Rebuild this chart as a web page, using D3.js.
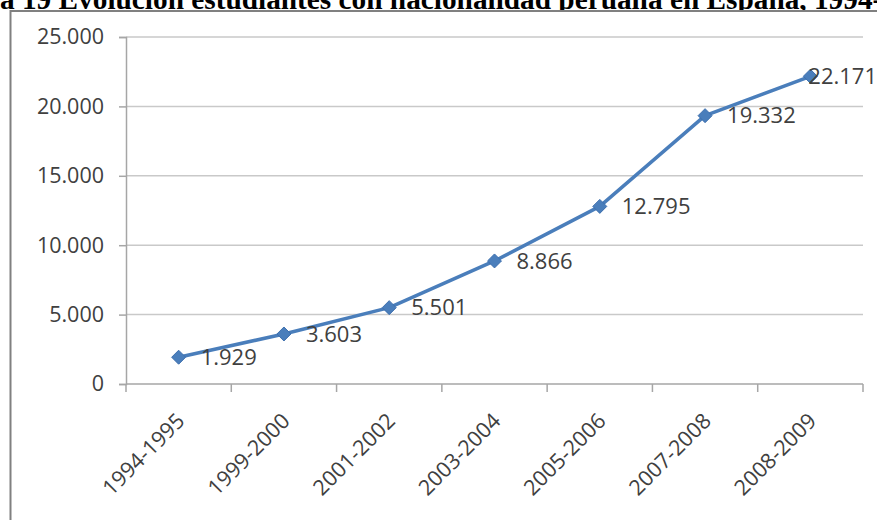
<!DOCTYPE html>
<html>
<head>
<meta charset="utf-8">
<script src="https://cdn.jsdelivr.net/npm/d3@7"></script>
<style>
  html, body { margin: 0; padding: 0; background: #fff; overflow: hidden; }
  svg { display: block; }
</style>
</head>
<body>
<svg id="chart" width="877" height="520"></svg>
<script>
// Students of Peruvian nationality in Spain, by school year
const titleText = "a 19 Evolución estudiantes con nacionalidad peruana en España, 1994-2009";
const years = ["1994-1995", "1999-2000", "2001-2002", "2003-2004", "2005-2006", "2007-2008", "2008-2009"];
const students = [1929, 3603, 5501, 8866, 12795, 19332, 22171];
const yTicks = [0, 5000, 10000, 15000, 20000, 25000];

const svg = d3.select("#chart");
const W = 877, H = 520;
const plot = { left: 126, right: 863, top: 37, bottom: 384 };

const fmt = v => d3.format(",")(v).replace(/,/g, ".");

// Title strip along the top edge
svg.append("text")
  .attr("x", 0).attr("y", 8.5)
  .attr("font-family", "'Liberation Serif', 'Times New Roman', serif")
  .attr("font-weight", "bold")
  .attr("font-size", 29.3)
  .attr("fill", "#000")
  .text(titleText);

// Chart frame
svg.append("rect")
  .attr("x", 10.5).attr("y", 11)
  .attr("width", 1000).attr("height", 1000)
  .attr("fill", "#fff")
  .attr("stroke", "#808080")
  .attr("stroke-width", 2);

const x = d3.scaleBand().domain(years).range([plot.left, plot.right]).padding(0);
const y = d3.scaleLinear().domain([0, 25000]).range([plot.bottom, plot.top]);

const font = "'Open Sans', 'DejaVu Sans', sans-serif";

// Horizontal gridlines
svg.append("g")
  .selectAll("line")
  .data(yTicks.filter(d => d > 0))
  .join("line")
  .attr("x1", plot.left).attr("x2", plot.right)
  .attr("y1", d => y(d)).attr("y2", d => y(d))
  .attr("stroke", "#c9c9c9")
  .attr("stroke-width", 1.5);

// Y axis
const yAxis = svg.append("g")
  .attr("transform", `translate(${plot.left},0)`)
  .call(d3.axisLeft(y).tickValues(yTicks).tickFormat(fmt).tickSize(7).tickPadding(15));
yAxis.select(".domain").attr("stroke", "#a6a6a6").attr("stroke-width", 1.5);
yAxis.selectAll(".tick line").attr("stroke", "#a6a6a6").attr("stroke-width", 1.5);
yAxis.selectAll(".tick text")
  .attr("font-family", font).attr("font-size", 21.5).attr("fill", "#404040");

// X axis with ticks at category boundaries
const xAxis = svg.append("g")
  .attr("transform", `translate(0,${plot.bottom})`);
xAxis.append("line")
  .attr("x1", plot.left).attr("x2", plot.right)
  .attr("stroke", "#a6a6a6").attr("stroke-width", 1.5);
const bounds = years.map(d => x(d)).concat([x(years[years.length - 1]) + x.bandwidth()]);
xAxis.selectAll("line.tk")
  .data(bounds)
  .join("line")
  .attr("class", "tk")
  .attr("x1", d => d).attr("x2", d => d)
  .attr("y1", 0).attr("y2", 8)
  .attr("stroke", "#a6a6a6").attr("stroke-width", 1.5);
xAxis.selectAll("text")
  .data(years)
  .join("text")
  .attr("transform", d => `translate(${x(d) + x.bandwidth() / 2 + 2},${33}) rotate(-45)`)
  .attr("text-anchor", "end")
  .attr("dy", "0.35em")
  .attr("font-family", font).attr("font-size", 21.5).attr("fill", "#404040")
  .text(d => d);

// Series line
const cx = d => x(d) + x.bandwidth() / 2;
const line = d3.line().x((d, i) => cx(years[i])).y(d => y(d));
svg.append("path")
  .datum(students)
  .attr("d", line)
  .attr("fill", "none")
  .attr("stroke", "#4a7ebb")
  .attr("stroke-width", 3.5)
  .attr("stroke-linejoin", "round");

// Diamond markers
svg.append("g")
  .selectAll("path")
  .data(students)
  .join("path")
  .attr("transform", (d, i) => `translate(${cx(years[i])},${y(d)})`)
  .attr("d", "M0,-7L7,0L0,7L-7,0Z")
  .attr("fill", "#4a7ebb")
  .attr("stroke", "#3d6fae")
  .attr("stroke-width", 1);

// Value labels to the right of each point, pulled left when they would run off the edge
svg.append("g")
  .selectAll("text")
  .data(students)
  .join("text")
  .attr("y", d => y(d))
  .attr("dy", "0.35em")
  .attr("font-family", font).attr("font-size", 22).attr("fill", "#404040")
  .text(d => fmt(d))
  .attr("x", function(d, i) {
    const w = this.getComputedTextLength();
    return Math.min(cx(years[i]) + 22, W - w);
  });
</script>
</body>
</html>
